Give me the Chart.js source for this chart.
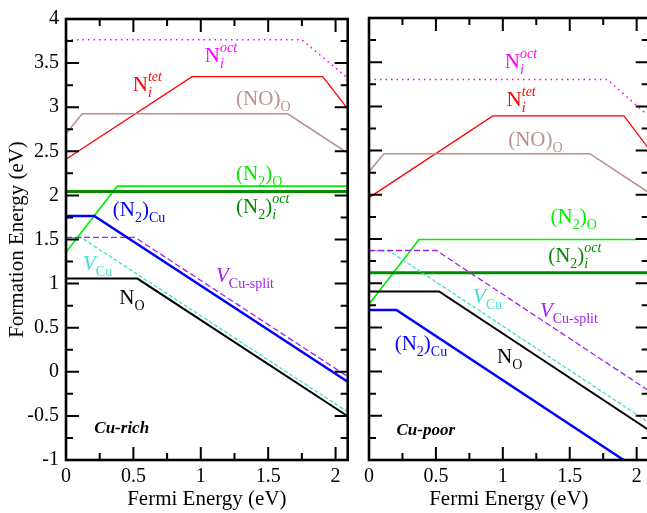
<!DOCTYPE html>
<html>
<head>
<meta charset="utf-8">
<script src="https://cdn.jsdelivr.net/npm/chart.js@4.4.1/dist/chart.umd.min.js"></script>
<style>
  html, body { margin: 0; padding: 0; background: #fff; }
  #wrap { position: relative; width: 647px; height: 513px; overflow: hidden; }
  canvas { position: absolute; top: 0; }
</style>
</head>
<body>
<div id="wrap">
  <canvas id="rich" width="360" height="513" style="left:0"></canvas>
  <canvas id="poor" width="330" height="513" style="left:340px"></canvas>
</div>
<script>
// axis ticks
const xTicks = [0, 0.5, 1, 1.5, 2];
const xMinor = [0.25, 0.75, 1.25, 1.75];
const yTicks = [-1, -0.5, 0, 0.5, 1, 1.5, 2, 2.5, 3, 3.5, 4];
const yMinor = [-0.75, -0.25, 0.25, 0.75, 1.25, 1.75, 2.25, 2.75, 3.25, 3.75];
const xMax = 2.09;

// [Fermi energy, formation energy] at each kink, Cu-rich
const richNiOct    = [[0, 3.765], [1.75, 3.765], [2.09, 3.33]];
const richNiTet    = [[0, 2.41], [0.935, 3.347], [1.905, 3.347], [2.09, 2.98]];
const richNOO      = [[0, 2.70], [0.12, 2.925], [1.645, 2.925], [2.09, 2.48]];
const richN2O      = [[0, 1.355], [0.38, 2.105], [2.09, 2.105]];
const richN2iOct   = [[0, 2.045], [2.09, 2.045]];
const richN2Cu     = [[0, 1.767], [0.21, 1.767], [2.09, -0.113]];
const richVCuSplit = [[0, 1.523], [0.513, 1.523], [2.09, -0.054]];
const richVCu      = [[0, 1.52], [0.115, 1.52], [2.09, -0.455]];
const richNO       = [[0, 1.057], [0.53, 1.057], [2.09, -0.503]];

// Cu-poor
const poorNiOct    = [[0, 3.305], [1.78, 3.305], [2.09, 2.89]];
const poorNiTet    = [[0, 1.968], [0.925, 2.893], [1.905, 2.893], [2.09, 2.523]];
const poorNOO      = [[0, 2.262], [0.112, 2.465], [1.65, 2.465], [2.09, 2.025]];
const poorN2O      = [[0, 0.763], [0.374, 1.495], [2.0, 1.495]];
const poorN2iOct   = [[0, 1.117], [2.09, 1.117]];
const poorN2Cu     = [[0, 0.698], [0.205, 0.698], [1.903, -1]];
const poorVCuSplit = [[0, 1.37], [0.504, 1.37], [2.09, -0.216]];
const poorVCu      = [[0, 1.365], [0.15, 1.365], [2.09, -0.575]];
const poorNO       = [[0, 0.906], [0.524, 0.906], [2.09, -0.66]];

const C = {
  oct: '#ff00ff', tet: '#ff0000', noo: '#bc8f8f', n2o: '#00ee00', n2i: '#008b00',
  n2cu: '#0000ff', split: '#a020f0', vcu: '#40e0d0', no: '#000000'
};

// label text pieces
const T = {
  oct:   [{t: 'N'}, {t: 'i', s: 'sub', i: 1}, {t: 'oct', s: 'sup', i: 1, stack: 1}],
  tet:   [{t: 'N'}, {t: 'i', s: 'sub', i: 1}, {t: 'tet', s: 'sup', i: 1, stack: 1}],
  noo:   [{t: '(NO)'}, {t: 'O', s: 'sub'}],
  n2o:   [{t: '(N'}, {t: '2', s: 'sub'}, {t: ')'}, {t: 'O', s: 'sub'}],
  n2i:   [{t: '(N'}, {t: '2', s: 'sub'}, {t: ')'}, {t: 'i', s: 'sub', i: 1}, {t: 'oct', s: 'sup', i: 1, stack: 1}],
  n2cu:  [{t: '(N'}, {t: '2', s: 'sub'}, {t: ')'}, {t: 'Cu', s: 'sub'}],
  vcu:   [{t: 'V', i: 1}, {t: 'Cu', s: 'sub'}],
  split: [{t: 'V', i: 1}, {t: 'Cu-split', s: 'sub'}],
  no:    [{t: 'N'}, {t: 'O', s: 'sub'}]
};

const richLabels = [
  [T.oct, C.oct, 1.03, 3.51], [T.tet, C.tet, 0.495, 3.18], [T.noo, C.noo, 1.262, 3.02],
  [T.n2o, C.n2o, 1.262, 2.17], [T.n2i, C.n2i, 1.262, 1.804], [T.n2cu, C.n2cu, 0.347, 1.762],
  [T.vcu, C.vcu, 0.126, 1.15], [T.split, C.split, 1.113, 1.02], [T.no, C.no, 0.396, 0.774],
  [[{t: 'Cu-rich', b: 1, i: 1, big: 17}], '#000', 0.21, -0.697]
];
const poorLabels = [
  [T.oct, C.oct, 1.015, 3.434], [T.tet, C.tet, 1.028, 3.007], [T.noo, C.noo, 1.04, 2.547],
  [T.n2o, C.n2o, 1.357, 1.68], [T.n2i, C.n2i, 1.339, 1.245], [T.vcu, C.vcu, 0.778, 0.774],
  [T.split, C.split, 1.277, 0.622], [T.n2cu, C.n2cu, 0.192, 0.246], [T.no, C.no, 0.957, 0.095],
  [[{t: 'Cu-poor', b: 1, i: 1, big: 17}], '#000', 0.205, -0.717]
];

const SERIF = '"Liberation Serif", "Times New Roman", serif';

function drawRich(ctx, x, y, parts, color) {
  let cx = x, lastX = x;
  ctx.fillStyle = color;
  ctx.textBaseline = 'alphabetic';
  ctx.textAlign = 'left';
  parts.forEach(p => {
    const size = p.big || (p.s ? 14 : 21);
    ctx.font = (p.i ? 'italic ' : '') + (p.b ? 'bold ' : '') + size + 'px ' + SERIF;
    const dy = p.s === 'sub' ? 6 : p.s === 'sup' ? -10 : 0;
    const sx = p.stack ? lastX : cx;
    ctx.fillText(p.t, sx, y + dy);
    const w = ctx.measureText(p.t).width;
    if (p.stack) { cx = Math.max(cx, sx + w); } else { lastX = cx; cx += w; }
  });
}

const framePlugin = {
  id: 'frame',
  afterDatasetsDraw(chart, args, opts) {
    const {ctx, chartArea: a, scales: {x, y}} = chart;
    ctx.save();
    ctx.strokeStyle = '#000';
    ctx.lineWidth = 2;
    ctx.beginPath();
    const tick = (vals, len) => {
      vals.forEach(v => {
        const px = x.getPixelForValue(v);
        ctx.moveTo(px, a.bottom); ctx.lineTo(px, a.bottom - len);
        ctx.moveTo(px, a.top); ctx.lineTo(px, a.top + len);
      });
    };
    const tickY = (vals, len) => {
      vals.forEach(v => {
        const py = y.getPixelForValue(v);
        ctx.moveTo(a.left, py); ctx.lineTo(a.left + len, py);
        ctx.moveTo(a.right, py); ctx.lineTo(a.right - len, py);
      });
    };
    tick(xTicks, 13); tick(xMinor, 7);
    tickY(yTicks, 13); tickY(yMinor, 7);
    ctx.stroke();
    ctx.lineWidth = 2.6;
    ctx.strokeRect(a.left, a.top, a.right - a.left, a.bottom - a.top);
    opts.labels.forEach(([parts, color, ex, ey]) => {
      drawRich(ctx, x.getPixelForValue(ex), y.getPixelForValue(ey), parts, color);
    });
    ctx.restore();
  }
};

function line(pts, color, width, dash) {
  return {
    data: pts.map(([e, f]) => ({x: e, y: f})),
    borderColor: color, borderWidth: width, borderDash: dash || [],
    pointRadius: 0, tension: 0, fill: false
  };
}

function makeChart(id, series, labels, left, right, showY) {
  return new Chart(document.getElementById(id), {
    type: 'line',
    data: {
      datasets: [
        line(series[8], C.no, 2),
        line(series[5], C.n2cu, 2.5),
        line(series[6], C.split, 1.3, [6, 3]),
        line(series[7], C.vcu, 1.3, [4, 2]),
        line(series[4], C.n2i, 3),
        line(series[3], C.n2o, 1.6),
        line(series[2], C.noo, 1.6),
        line(series[1], C.tet, 1.3),
        line(series[0], C.oct, 1.6, [1.5, 4])
      ]
    },
    options: {
      responsive: false,
      animation: false,
      layout: {padding: {top: 18, right: right, bottom: 0, left: 0}},
      plugins: {legend: {display: false}, tooltip: {enabled: false}, frame: {labels: labels}},
      scales: {
        x: {
          type: 'linear', min: 0, max: xMax,
          afterBuildTicks: s => { s.ticks = xTicks.map(v => ({value: v})); },
          afterFit: s => { s.height = 53; },
          grid: {display: false, drawTicks: false},
          border: {display: false},
          ticks: {color: '#000', padding: 5, font: {family: SERIF, size: 20}, callback: v => String(v)},
          title: {display: true, text: 'Fermi Energy (eV)', color: '#000', padding: {top: 0, bottom: 1},
                  font: {family: SERIF, size: 21}}
        },
        y: {
          type: 'linear', min: -1, max: 4,
          afterBuildTicks: s => { s.ticks = yTicks.map(v => ({value: v})); },
          afterFit: s => { s.width = left; },
          grid: {display: false, drawTicks: false},
          border: {display: false},
          ticks: {display: showY, color: '#000', padding: 7, font: {family: SERIF, size: 20}, callback: v => String(v)},
          title: {display: showY, text: 'Formation Energy (eV)', color: '#000', padding: {top: 5, bottom: 0},
                  font: {family: SERIF, size: 21}}
        }
      }
    },
    plugins: [framePlugin]
  });
}

makeChart('rich',
  [richNiOct, richNiTet, richNOO, richN2O, richN2iOct, richN2Cu, richVCuSplit, richVCu, richNO],
  richLabels, 66, 12.3, true);
makeChart('poor',
  [poorNiOct, poorNiTet, poorNOO, poorN2O, poorN2iOct, poorN2Cu, poorVCuSplit, poorVCu, poorNO],
  poorLabels, 29, 21.3, false);
</script>
</body>
</html>
